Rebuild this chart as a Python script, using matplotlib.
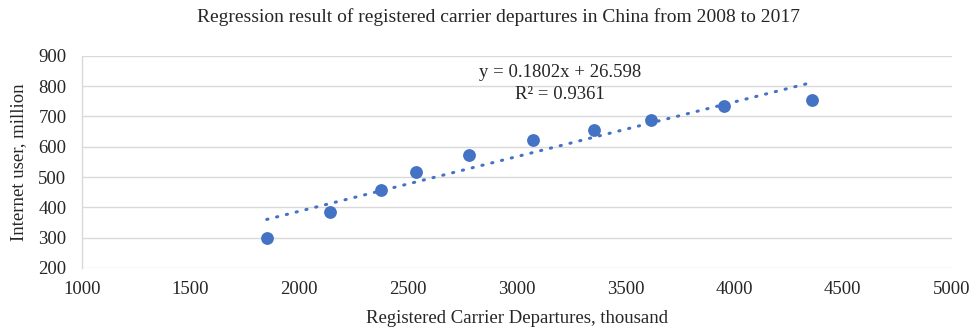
import matplotlib
matplotlib.use("Agg")
import matplotlib.pyplot as plt
import numpy as np

# Registered carrier departures (thousand) vs. internet users (million), 2008-2017
departures = [1851, 2142, 2376, 2537, 2781, 3073, 3355, 3616, 3953, 4359]
internet_users = [300, 385, 458, 515, 572, 622, 654, 689, 733, 753]

# Linear trendline as reported
slope = 0.1802
intercept = 26.598
r_squared = 0.9361

x_ticks = [1000, 1500, 2000, 2500, 3000, 3500, 4000, 4500, 5000]
y_ticks = [200, 300, 400, 500, 600, 700, 800, 900]

plt.rcParams['font.family'] = ['Liberation Serif', 'DejaVu Serif']

blue = '#4472C4'
text_col = '#262626'
fs = 13.5

fig = plt.figure(figsize=(9.76, 3.35), dpi=100)
ax = fig.add_axes([0.0837, 0.2, 0.8913, 0.6337])

ax.set_xlim(1000, 5000)
ax.set_ylim(200, 900)
ax.set_xticks(x_ticks)
ax.set_yticks(y_ticks)
ax.grid(axis='y', color='#d9d9d9', linewidth=1.0)
ax.set_axisbelow(True)
for side in ['top', 'right', 'bottom']:
    ax.spines[side].set_visible(False)
ax.spines['left'].set_color('#d9d9d9')
ax.spines['left'].set_linewidth(1.0)
ax.tick_params(axis='x', length=0, labelsize=fs, colors=text_col, pad=9)
ax.tick_params(axis='y', length=0, labelsize=fs, colors=text_col, pad=11)

ax.scatter(departures, internet_users, s=85, color=blue, zorder=3, linewidths=0)

xs = np.array([min(departures), max(departures)])
ax.plot(xs, slope * xs + intercept, color=blue, linewidth=2.2,
        linestyle=(0, (0.4, 2.9)), dash_capstyle='round', zorder=2)

ax.text(3199, 808, f"y = {slope}x + {intercept}\nR\u00b2 = {r_squared}",
        ha='center', va='center', fontsize=fs, color=text_col, linespacing=1.35)

ax.set_xlabel('Registered Carrier Departures, thousand', fontsize=fs,
              color=text_col, labelpad=9)
ax.set_ylabel('Internet user, million', fontsize=fs, color=text_col, labelpad=8)
fig.suptitle('Regression result of registered carrier departures in China from 2008 to 2017',
             fontsize=14, color=text_col, x=0.511, y=0.975)

fig.savefig('out.png', dpi=100)
